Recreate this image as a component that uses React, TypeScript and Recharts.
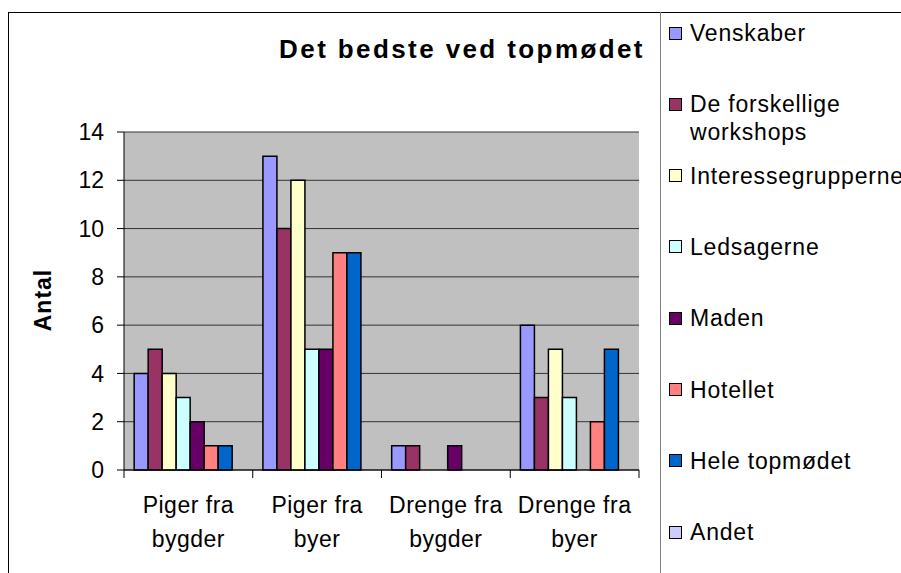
import React from 'react';
import { BarChart, Bar, XAxis, YAxis, CartesianGrid, Legend } from 'recharts';

const categories = ['Piger fra bygder', 'Piger fra byer', 'Drenge fra bygder', 'Drenge fra byer'];
const seriesNames = [
  'Venskaber',
  'De forskellige workshops',
  'Interessegrupperne',
  'Ledsagerne',
  'Maden',
  'Hotellet',
  'Hele topmødet',
  'Andet',
];
const venskaber = [4, 13, 1, 6];
const forskellige = [5, 10, 1, 3];
const interesse = [4, 12, 0, 5];
const ledsagerne = [3, 5, 0, 3];
const maden = [2, 5, 1, 0];
const hotellet = [1, 9, 0, 2];
const hele = [1, 9, 0, 5];
const andet = [0, 0, 0, 0];
const seriesValues = [venskaber, forskellige, interesse, ledsagerne, maden, hotellet, hele, andet];
const seriesColors = ['#9999FF', '#993366', '#FFFFCC', '#CCFFFF', '#660066', '#FF8080', '#0066CC', '#CCCCFF'];
const yTicks = [0, 2, 4, 6, 8, 10, 12, 14];
const title = 'Det bedste ved topmødet';
const yLabel = 'Antal';

const data = categories.map((name, ci) => {
  const row: Record<string, any> = { name };
  seriesNames.forEach((s, si) => {
    row['s' + si] = seriesValues[si][ci];
  });
  return row;
});

const FONT = '"Liberation Sans", Arial, sans-serif';
const CHART_W = 893;
const CHART_H = 565;
const MARGIN = { top: 124, right: 262, bottom: 23, left: 56 };
const Y_W = 60;
const PLOT_W = CHART_W - MARGIN.left - MARGIN.right - Y_W;
const BAND = PLOT_W / categories.length;

function splitLabel(s: string): [string, string] {
  const i = s.lastIndexOf(' ');
  return [s.slice(0, i), s.slice(i + 1)];
}

const CatTick = (props: any) => {
  const { x, y, payload, index } = props;
  const [l1, l2] = splitLabel(String(payload.value));
  const txt = { fontSize: 23, fontFamily: FONT, fill: '#000', letterSpacing: 0.5 } as any;
  return (
    <g>
      <line x1={x - BAND / 2} x2={x - BAND / 2} y1={y} y2={y + 8} stroke="#000" strokeWidth={1} />
      {index === categories.length - 1 && (
        <line x1={x + BAND / 2} x2={x + BAND / 2} y1={y} y2={y + 8} stroke="#000" strokeWidth={1} />
      )}
      <text x={x} y={y + 43} textAnchor="middle" {...txt}>
        {l1}
      </text>
      <text x={x} y={y + 76.5} textAnchor="middle" {...txt}>
        {l2}
      </text>
    </g>
  );
};

const LegendContent = () => (
  <div style={{ position: 'relative', width: 240, height: 560 }}>
    {seriesNames.map((n, i) => (
      <div
        key={n}
        style={{ position: 'absolute', top: i * 71.3, left: 0, display: 'flex', alignItems: 'flex-start' }}
      >
        <div
          style={{
            boxSizing: 'border-box',
            width: 13,
            height: 13,
            background: seriesColors[i],
            border: '1.5px solid #000',
            marginTop: 7.5,
            marginRight: 8,
            flex: 'none',
          }}
        />
        <div
          style={{
            width: 170,
            lineHeight: '28px',
            fontSize: 23,
            fontFamily: FONT,
            color: '#000',
            letterSpacing: 0.8,
            whiteSpace: 'normal',
          }}
        >
          {n}
        </div>
      </div>
    ))}
  </div>
);

const YLabel = (props: any) => {
  const vb = props.viewBox || { x: 0, y: 0, width: 0, height: 0 };
  const cx = vb.x - 21;
  const cy = vb.y + vb.height / 2 - 1;
  return (
    <text
      x={cx}
      y={cy}
      transform={`rotate(-90 ${cx} ${cy})`}
      textAnchor="middle"
      dy="0.35em"
      fontSize={23}
      fontWeight="bold"
      fontFamily={FONT}
      fill="#000"
      letterSpacing={1}
    >
      {yLabel}
    </text>
  );
};

export default function App() {
  return (
    <div
      style={{
        position: 'fixed',
        left: 0,
        top: 0,
        width: 901,
        height: 573,
        overflow: 'hidden',
        background: '#fff',
      }}
    >
      <div
        style={{
          position: 'absolute',
          left: 8,
          top: 12,
          width: 1000,
          height: 1000,
          borderLeft: '1px solid #000',
          borderTop: '1px solid #000',
        }}
      />
      <div
        style={{
          position: 'absolute',
          left: 660,
          top: 12,
          width: 1,
          height: 1000,
          background: '#808080',
        }}
      />
      <svg
        width={901}
        height={573}
        style={{ position: 'absolute', left: 0, top: 0, pointerEvents: 'none' }}
      >
        <text
          x={462}
          y={58}
          textAnchor="middle"
          fontSize={26}
          fontWeight="bold"
          fontFamily={FONT}
          letterSpacing={2.4}
          fill="#000"
        >
          {title}
        </text>
      </svg>
      <div style={{ position: 'absolute', left: 8, top: 8 }}>
        <BarChart
          width={CHART_W}
          height={CHART_H}
          data={data}
          margin={MARGIN}
          barCategoryGap="7.9%"
          barGap={0}
        >
          <CartesianGrid vertical={false} stroke="#333333" fill="#C0C0C0" fillOpacity={1} />
          <XAxis
            dataKey="name"
            interval={0}
            tickLine={false}
            tickSize={0}
            tickMargin={0}
            axisLine={{ stroke: '#000', strokeWidth: 1 }}
            height={80}
            tick={<CatTick />}
          />
          <YAxis
            type="number"
            domain={[0, 14]}
            ticks={yTicks}
            interval={0}
            width={Y_W}
            tickSize={7}
            tickMargin={13}
            axisLine={{ stroke: '#000', strokeWidth: 1 }}
            tickLine={{ stroke: '#000', strokeWidth: 1 }}
            tick={{ fontSize: 23, fill: '#000', fontFamily: FONT } as any}
            label={<YLabel />}
          />
          <Legend
            layout="vertical"
            align="center"
            verticalAlign="middle"
            content={<LegendContent />}
            wrapperStyle={{ position: 'absolute', left: 661, top: 11, width: 240, height: 560 }}
          />
          {seriesNames.map((n, i) => (
            <Bar
              key={n}
              dataKey={'s' + i}
              name={n}
              fill={seriesColors[i]}
              stroke="#000"
              strokeWidth={1.5}
              isAnimationActive={false}
            />
          ))}
        </BarChart>
      </div>
    </div>
  );
}
